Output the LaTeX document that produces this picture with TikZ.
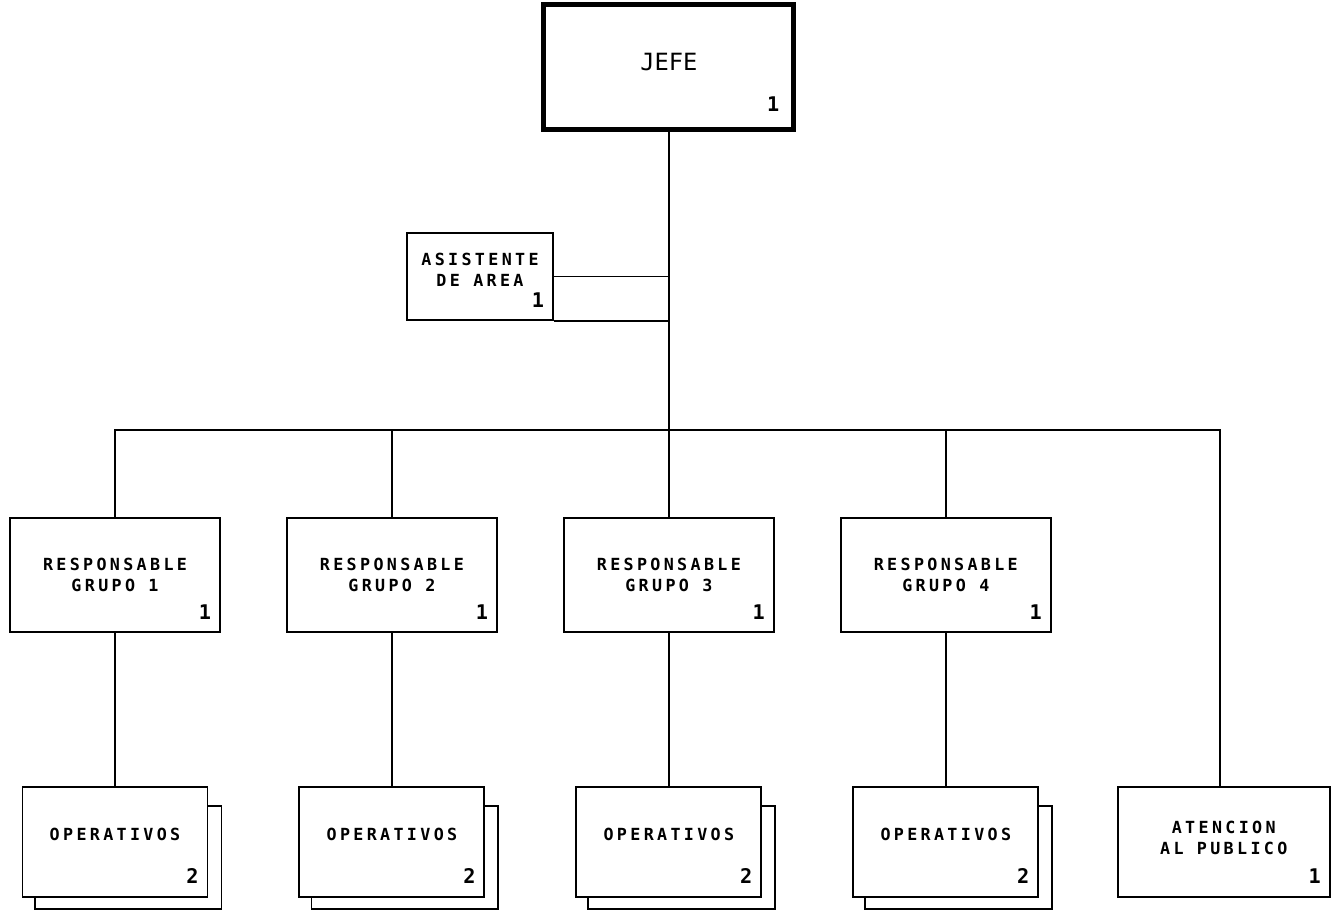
\documentclass[tikz,border=0pt]{standalone}
\usepackage{fontspec}
\newfontfamily\plotfont[LetterSpace=20]{DejaVu Sans Mono}
\newfontfamily\headfont{DejaVu Sans Mono}
\usetikzlibrary{positioning}

\begin{document}
\begin{tikzpicture}[
  node distance=3.06cm and 1.3cm,
  line width=1.1pt,
  box/.style={rectangle, draw, fill=white, minimum width=4.2cm, minimum height=2.28cm, align=center, font=\plotfont\bfseries\fontsize{9.5}{12}\selectfont},
  opbox/.style={box, minimum width=3.7cm, minimum height=2.2cm, text depth=0.32cm},
  countlabel/.style={anchor=south east, inner sep=0pt, xshift=-0.18cm, yshift=0.26cm, font=\headfont\bfseries\fontsize{11.5}{12}\selectfont},
  count/.style={label={[countlabel]south east:#1}}
]
\useasboundingbox (0,0) rectangle (26.76,-18.32);

\node[box, count=1] (resp1) at (2.3,-11.5) {RESPONSABLE\\GRUPO 1};
\node[box, count=1, right=of resp1] (resp2) {RESPONSABLE\\GRUPO 2};
\node[box, count=1, right=of resp2] (resp3) {RESPONSABLE\\GRUPO 3};
\node[box, count=1, right=of resp3] (resp4) {RESPONSABLE\\GRUPO 4};
\node[box, line width=2.8pt, minimum width=5cm, minimum height=2.5cm, text depth=0.2cm, font=\headfont\fontsize{13.5}{15}\selectfont, label={[countlabel, xshift=-0.14cm, yshift=0.14cm]south east:1}, above=7.7cm of resp3] (jefe) {JEFE};
\node[box, minimum width=2.92cm, minimum height=1.74cm, text depth=0.28cm, count=1] (asist) at (9.6,-5.53) {ASISTENTE\\DE AREA};

\node[opbox, count=2, below=of resp1] (op1) {OPERATIVOS};
\node[opbox, count=2, below=of resp2] (op2) {OPERATIVOS};
\node[opbox, count=2, below=of resp3] (op3) {OPERATIVOS};
\node[opbox, count=2, below=of resp4] (op4) {OPERATIVOS};
\node[box, minimum width=4.24cm, minimum height=2.2cm, text depth=0.16cm, count=1, right=1.55cm of op4] (aten) {ATENCION\\AL PUBLICO};

\coordinate (bus) at (0,-8.6);

\draw (jefe.south) -- (resp3.north);
\draw (asist.east) -- (asist.east -| jefe.south);
\draw (asist.south east) -- (asist.south east -| jefe.south);
\draw (resp1.north) |- ([xshift=-0.08cm]bus -| aten.north) -- ([xshift=-0.08cm]aten.north);
\foreach \g in {2,4}
  \draw (resp\g.north) -- (resp\g.north |- bus);
\foreach \g in {1,...,4}
  \draw (resp\g.south) -- (op\g.north);

% second sheet behind each operativos box
\foreach \g in {1,...,4}
  \draw ([yshift=-0.4cm]op\g.north east) -- ++(0.26,0) |- ([xshift=0.26cm,yshift=-0.22cm]op\g.south west) -- ([xshift=0.26cm]op\g.south west);

\end{tikzpicture}
\end{document}
